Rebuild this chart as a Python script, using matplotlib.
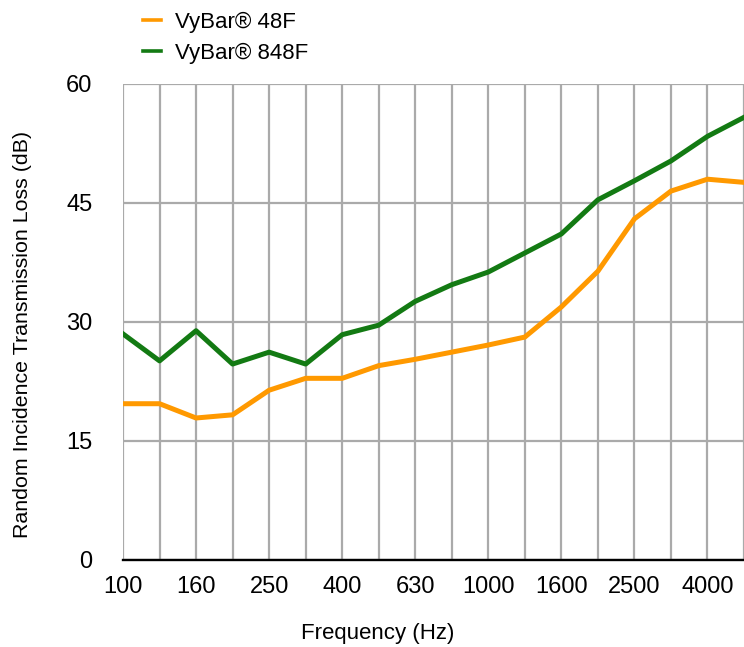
import numpy as np
import matplotlib
matplotlib.use('Agg')
import matplotlib.pyplot as plt

plt.rcParams['font.family'] = ['Liberation Sans', 'DejaVu Sans']

# one-third octave bands (Hz)
freqs = ['100', '125', '160', '200', '250', '315', '400', '500', '630', '800',
         '1000', '1250', '1600', '2000', '2500', '3150', '4000', '5000']
vybar_48f = [19.7, 19.7, 17.9, 18.3, 21.4, 22.9, 22.9, 24.5, 25.3, 26.2,
             27.1, 28.1, 31.9, 36.4, 43.0, 46.5, 48.0, 47.6]
vybar_848f = [28.5, 25.1, 28.9, 24.7, 26.2, 24.7, 28.4, 29.6, 32.6, 34.7,
              36.3, 38.7, 41.1, 45.4, 47.8, 50.3, 53.4, 55.8]
yticks = [0, 15, 30, 45, 60]

fig = plt.figure(figsize=(7.44, 6.47), dpi=100)
ax = fig.add_axes([123 / 744, 1 - 560 / 647, 1 - 123 / 744, (560 - 84) / 647])

x = np.arange(len(freqs))
ax.plot(x, vybar_48f, color='#ff9900', lw=3.6, label='VyBar® 48F', zorder=3)
ax.plot(x, vybar_848f, color='#137a13', lw=3.6, label='VyBar® 848F', zorder=3)

ax.set_xlim(0, (744 - 123) / 36.8)
ax.set_ylim(0, 60)
ax.set_xticks(x[::2])
ax.set_xticklabels(freqs[::2])
ax.set_xticks(x, minor=True)
ax.set_yticks(yticks)

ax.grid(True, which='both', axis='x', color='#aaaaaa', lw=1.6, zorder=0)
ax.grid(True, axis='y', color='#aaaaaa', lw=1.6, zorder=0)
ax.axhline(0, color='black', lw=1.7, zorder=4, clip_on=False)
for s in ax.spines.values():
    s.set_visible(False)
ax.tick_params(which='both', length=0, labelsize=17)
ax.tick_params(axis='x', pad=11.5)
ax.tick_params(axis='y', pad=22)

fig.text(378 / 744, 1 - 633 / 647, 'Frequency (Hz)', ha='center', va='center', fontsize=16)
fig.text(23 / 744, 1 - 334 / 647, 'Random Incidence Transmission Loss (dB)',
         ha='center', va='center', rotation=90, fontsize=15.4)

leg = fig.legend(loc='upper left', bbox_to_anchor=(134 / 744, 1 - 3 / 647), frameon=False,
                 fontsize=16, handlelength=0.81, handletextpad=0.63, labelspacing=0.45,
                 borderaxespad=0)
for h in leg.get_lines():
    h.set_linewidth(2.6)

fig.savefig('out.png', dpi=100)
